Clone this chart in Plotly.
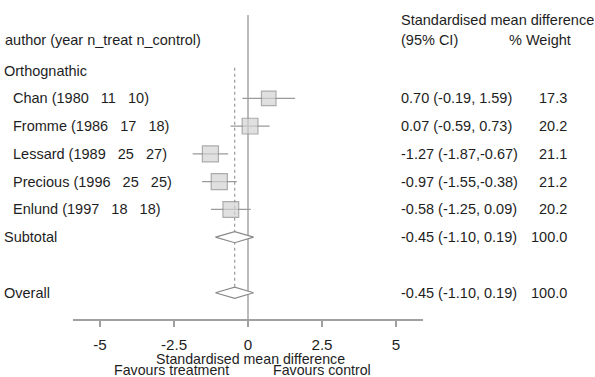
import plotly.graph_objects as go

# ---------------- data ----------------
group_label = "Orthognathic"
studies = ["Chan", "Fromme", "Lessard", "Precious", "Enlund"]
years = [1980, 1986, 1989, 1996, 1997]
n_treat = [11, 17, 25, 25, 18]
n_control = [10, 18, 27, 25, 18]
smd = [0.70, 0.07, -1.27, -0.97, -0.58]
ci_lo = [-0.19, -0.59, -1.87, -1.55, -1.25]
ci_hi = [1.59, 0.73, -0.67, -0.38, 0.09]
weights = [17.3, 20.2, 21.1, 21.2, 20.2]

pooled_labels = ["Subtotal", "Overall"]
pooled_est = [-0.45, -0.45]
pooled_lo = [-1.10, -1.10]
pooled_hi = [0.19, 0.19]
pooled_w = [100.0, 100.0]

tick_vals = [-5, -2.5, 0, 2.5, 5]
tick_text = ["-5", "-2.5", "0", "2.5", "5"]

# ---------------- layout geometry ----------------
W, H = 595, 377
L, R, T, B = 73, 172, 0, 58
PW, PH = W - L - R, H - T - B
X_RANGE = [-5.912, 5.912]
ROW0_PX, ROW_H = 42.8, 27.77
Y_RANGE = [(T + PH - ROW0_PX) / ROW_H, (T - ROW0_PX) / ROW_H]

FONT = "Liberation Sans, Arial, Helvetica, sans-serif"
TXT = "#1e1e1e"
FS = 14.5
NB = "\u00a0"


def px(xp):
    return (xp - L) / PW


def py(yp):
    return 1 - (yp - T) / PH


study_rows = [2 + i for i in range(len(studies))]
group_row = 1
pooled_rows = [7, 9]

fig = go.Figure()

# CI lines
for e, lo, hi, r in zip(smd, ci_lo, ci_hi, study_rows):
    fig.add_trace(go.Scatter(x=[lo, hi], y=[r, r], mode="lines",
                             line=dict(color="#9a9a9a", width=1.2),
                             hoverinfo="skip", showlegend=False, cliponaxis=False))

# squares
fig.add_trace(go.Scatter(
    x=smd, y=study_rows, mode="markers",
    marker=dict(symbol="square", size=[3.5 * w ** 0.5 for w in weights],
                color="#d3d3d3", line=dict(color="#8a8a8a", width=1.2)),
    showlegend=False, cliponaxis=False))

# diamonds
DH = 0.2
for e, lo, hi, r in zip(pooled_est, pooled_lo, pooled_hi, pooled_rows):
    fig.add_trace(go.Scatter(
        x=[lo, e, hi, e, lo], y=[r, r - DH, r, r + DH, r],
        mode="lines", fill="toself", fillcolor="white",
        line=dict(color="#8a8a8a", width=1.2),
        showlegend=False, cliponaxis=False))

shapes = [
    # line of no effect
    dict(type="line", xref="x", yref="paper", x0=0, x1=0,
         y0=0, y1=py(15), line=dict(color="#aaaaaa", width=1.6), layer="below"),
    # overall effect dotted line
    dict(type="line", xref="x", yref="y", x0=pooled_est[1], x1=pooled_est[1],
         y0=0.9, y1=pooled_rows[1] - DH, line=dict(color="#9a9a9a", width=1.2, dash="dot"),
         layer="below"),
]

ann = []


def text(x, y, s, xanchor="left", yref="paper", size=FS):
    ann.append(dict(x=x, y=y, xref="paper", yref=yref, text=s, showarrow=False,
                    xanchor=xanchor, yanchor="middle",
                    font=dict(family=FONT, size=size, color=TXT)))


# headers
text(px(3), py(40), "author (year n_treat n_control)")
text(px(399), py(20), "Standardised mean difference")
text(px(399), py(40), "(95% CI)")
text(px(507), py(40), "% Weight")

# group label
text(px(2), group_row, group_label, yref="y")

sp = NB * 3
for s, yr, nt, nc, e, lo, hi, w, r in zip(studies, years, n_treat, n_control,
                                          smd, ci_lo, ci_hi, weights, study_rows):
    text(px(11), r, f"{s} ({yr}{sp}{nt}{sp}{nc})", yref="y")
    ci = f"{e:.2f} ({lo:.2f},{hi:5.2f})".replace(" ", NB)
    text(px(399), r, ci, yref="y")
    text(px(569), r, f"{w:.1f}", xanchor="right", yref="y")

for lab, e, lo, hi, w, r in zip(pooled_labels, pooled_est, pooled_lo, pooled_hi,
                                pooled_w, pooled_rows):
    text(px(2), r, lab, yref="y")
    ci = f"{e:.2f} ({lo:.2f},{hi:5.2f})".replace(" ", NB)
    text(px(399), r, ci, yref="y")
    text(px(569), r, f"{w:.1f}", xanchor="right", yref="y")

# axis titles
text(px(250.5), py(358.5), "Standardised mean difference", xanchor="center", size=14.2)
text(px(171), py(370), "Favours treatment", xanchor="center", size=14.2)
text(px(321.5), py(370), "Favours control", xanchor="center", size=14.2)

fig.update_layout(
    width=W, height=H,
    margin=dict(l=L, r=R, t=T, b=B, pad=0),
    paper_bgcolor="white", plot_bgcolor="white",
    showlegend=False,
    shapes=shapes, annotations=ann,
    xaxis=dict(range=X_RANGE, showgrid=False, zeroline=False,
               showline=True, linecolor="#a0a0a0", linewidth=1.5,
               ticks="outside", ticklen=6, tickwidth=1.5, tickcolor="#a0a0a0",
               tickvals=tick_vals, ticktext=tick_text, ticklabelstandoff=5,
               tickfont=dict(family=FONT, size=15.2, color=TXT), fixedrange=True),
    yaxis=dict(range=Y_RANGE, visible=False, fixedrange=True),
)

fig.write_html("out.html", config={"displayModeBar": False, "staticPlot": True},
               post_script="document.body.style.margin='0';document.body.style.overflow='hidden';")
